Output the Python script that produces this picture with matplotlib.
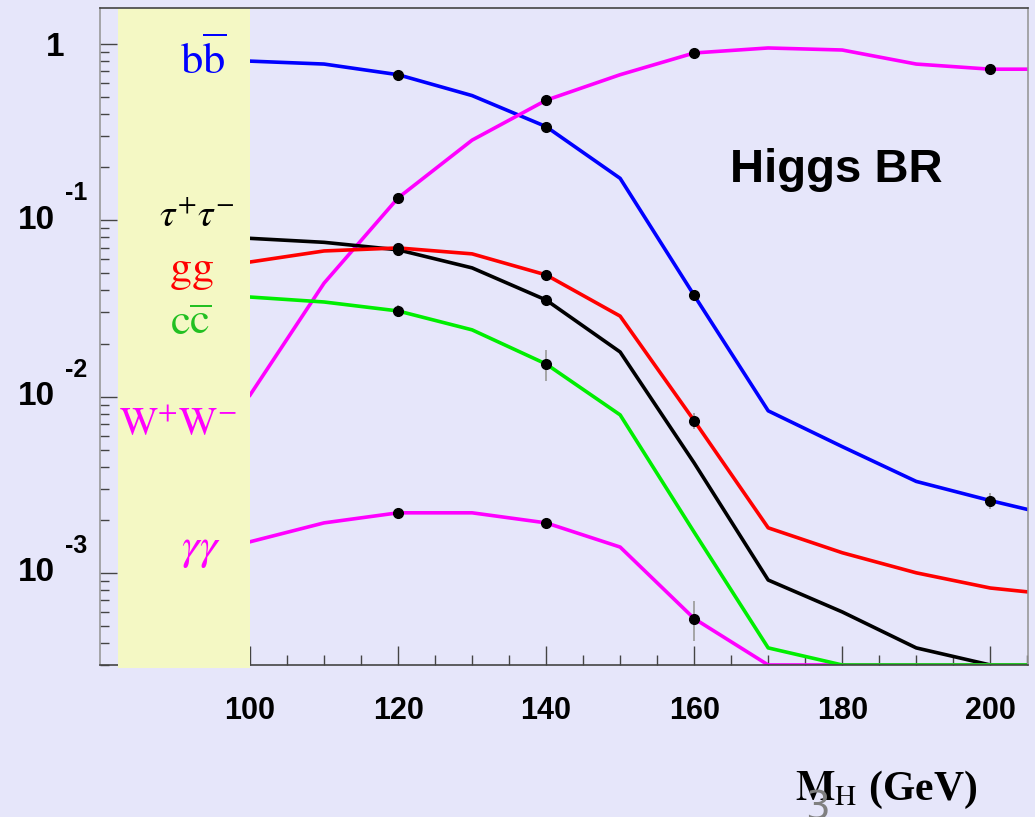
import numpy as np
import matplotlib
matplotlib.use('Agg')
import matplotlib.pyplot as plt
from matplotlib import transforms
from matplotlib.patches import Rectangle
from matplotlib.ticker import FixedLocator, LogLocator, NullFormatter

plt.rcParams['mathtext.fontset'] = 'stix'

# Higgs branching ratios
mass = [100, 110, 120, 130, 140, 150, 160, 170, 180, 190, 200, 205]
br_bb = [0.80, 0.77, 0.67, 0.51, 0.34, 0.173, 0.0375, 0.0083, 0.0052, 0.0033, 0.00257, 0.00229]
br_ww = [0.0102, 0.044, 0.134, 0.285, 0.48, 0.67, 0.89, 0.95, 0.925, 0.77, 0.72, 0.72]
br_tau = [0.079, 0.075, 0.068, 0.0537, 0.0353, 0.0179, 0.0042, 0.00091, 0.0006, 0.000375, 0.0003, 0.0003]
br_gg = [0.058, 0.067, 0.0697, 0.0645, 0.049, 0.0286, 0.0073, 0.0018, 0.0013, 0.001, 0.00082, 0.00078]
br_cc = [0.0367, 0.0344, 0.0306, 0.0239, 0.0153, 0.00787, 0.0017, 0.000375, 0.0003, 0.0003, 0.0003, 0.0003]
br_gam = [0.0015, 0.00192, 0.00219, 0.00219, 0.00192, 0.0014, 0.00055, 0.0003, 0.0003, 0.0003, 0.0003, 0.0003]

# measured points (mass, value, relative error)
pts_bb = ([120, 140, 160, 200], [0.67, 0.34, 0.0375, 0.00257], [0.01, 0.01, 0.03, 0.10])
pts_ww = ([120, 140, 160, 200], [0.134, 0.48, 0.89, 0.72], [0.02, 0.01, 0.01, 0.01])
pts_tau = ([120, 140], [0.068, 0.0353], [0.03, 0.04])
pts_gg = ([120, 140, 160], [0.0697, 0.049, 0.0073], [0.02, 0.03, 0.10])
pts_cc = ([120, 140], [0.0306, 0.0153], [0.08, 0.20])
pts_gam = ([120, 140, 160], [0.00219, 0.00192, 0.00055], [0.02, 0.02, 0.25])

W, H = 1035, 817
bg = '#e6e6fa'

def px(x, y):
    return x / W, 1 - y / H

fig = plt.figure(figsize=(W / 100, H / 100), dpi=100)
fig.patch.set_facecolor(bg)
ax = fig.add_axes([100 / W, 1 - 665 / H, 928 / W, 657 / H])
ax.set_facecolor(bg)
ax.set_yscale('log')
ax.set_xlim(79.73, 205.1)
ax.set_ylim(10 ** -3.523, 10 ** 0.2045)

curves = [
    (br_bb, '#0000ff'),
    (br_ww, '#ff00ff'),
    (br_tau, 'black'),
    (br_gg, '#ff0000'),
    (br_gam, '#ff00ff'),
    (br_cc, '#00ee00'),
]
for vals, col in curves:
    ax.plot(mass, vals, color=col, lw=2.6, zorder=2)

for m, v, e in [pts_bb, pts_ww, pts_tau, pts_gg, pts_cc, pts_gam]:
    v = np.array(v)
    err = v * np.array(e)
    ax.errorbar(m, v, yerr=err, fmt='o', color='black', ms=7,
                ecolor='#a0a0a0', elinewidth=1.3, capsize=0, zorder=4)

# yellow label band
band = Rectangle((82.2, -0.005), 100 - 82.2, 1.005,
                 transform=transforms.blended_transform_factory(ax.transData, ax.transAxes),
                 facecolor='#f4f8c4', edgecolor='none', zorder=3, clip_on=False)
ax.add_patch(band)

for s in ['left', 'right']:
    ax.spines[s].set_color('#999999')
for s in ['top', 'bottom']:
    ax.spines[s].set_color('#444444')
for s in ax.spines.values():
    s.set_linewidth(1.2)
ax.spines['top'].set_zorder(5)

ax.xaxis.set_major_locator(FixedLocator([100, 120, 140, 160, 180, 200]))
ax.xaxis.set_minor_locator(FixedLocator([m for m in range(105, 206, 5) if m % 20 != 0]))
ax.yaxis.set_major_locator(LogLocator(base=10))
ax.yaxis.set_minor_locator(LogLocator(base=10, subs=np.arange(2, 10)))
ax.yaxis.set_major_formatter(NullFormatter())
ax.yaxis.set_minor_formatter(NullFormatter())
ax.tick_params(axis='both', which='both', direction='in', top=False, right=False,
               color='#444444', width=1.0)
ax.tick_params(axis='x', which='major', length=14, pad=22)
ax.tick_params(axis='x', which='minor', length=7)
ax.tick_params(axis='y', which='major', length=12)
ax.tick_params(axis='y', which='minor', length=6.5)
for lab in ax.get_xticklabels():
    lab.set_fontfamily('Liberation Sans')
    lab.set_fontweight('bold')
    lab.set_fontsize(22)

# ROOT style decade labels
ytr = transforms.blended_transform_factory(fig.transFigure, ax.transData)
ax.text(55 / W, 1.0, '1', transform=transforms.offset_copy(ytr, fig=fig, y=-3, units='dots'),
        ha='center', va='center', fontsize=24, fontweight='bold', family='Liberation Sans')
for k in [1, 2, 3]:
    ax.text(55 / W, 10.0 ** -k, '10', transform=ytr, ha='right', va='center',
            fontsize=24, fontweight='bold', family='Liberation Sans')
    ax.text(65 / W, 10.0 ** -k, '-%d' % k,
            transform=transforms.offset_copy(ytr, fig=fig, y=27, units='dots'),
            ha='left', va='center', fontsize=18, fontweight='bold', family='Liberation Sans')

# channel labels in the band
labels = [
    (r'$\mathrm{b\overline{b}}$', 203, 60, '#0000ff', 32),
    (r'$\tau^{+}\tau^{-}$', 197, 215, 'black', 28),
    (r'$\mathrm{gg}$', 192, 270, '#ff0000', 32),
    (r'$\mathrm{c\overline{c}}$', 191, 322, '#22c022', 32),
    (r'$\mathrm{W^{+}W^{-}}$', 178, 425, '#ff00ff', 29),
    (r'$\gamma\gamma$', 201, 548, '#ff00ff', 32),
]
for txt, x, y, col, fs in labels:
    fig.text(*px(x, y), txt, color=col, fontsize=fs, ha='center', va='center', zorder=6)

fig.text(*px(836, 182), 'Higgs BR', fontsize=34, fontweight='bold',
         family='Liberation Sans', ha='center', va='baseline')

fig.text(*px(977, 800), r'$\mathbf{M}_{\mathrm{H}}$ (GeV)', fontsize=30, fontweight='bold',
         family='Liberation Serif', ha='right', va='baseline')
fig.text(*px(817, 789), '3', fontsize=28, color='#808080', ha='center', va='top',
         family='DejaVu Sans')

fig.savefig('out.png', dpi=100, facecolor=bg)
